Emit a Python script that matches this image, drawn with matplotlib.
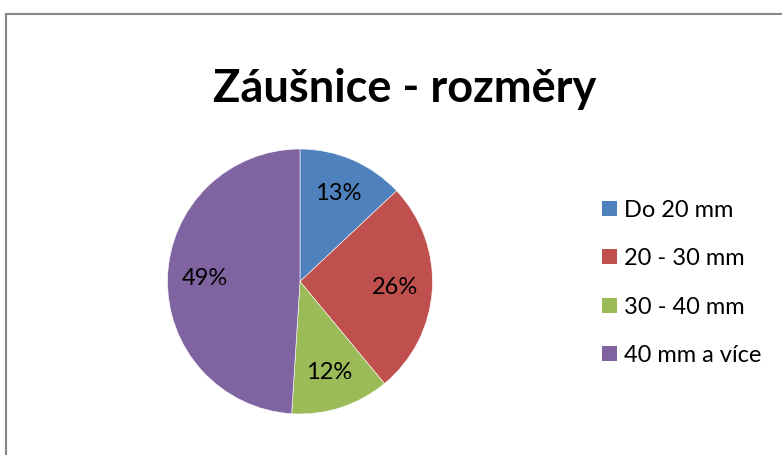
import matplotlib
matplotlib.use("Agg")
from matplotlib import pyplot as plt
from matplotlib.patches import Rectangle
from matplotlib.lines import Line2D

# data
categories = ["Do 20 mm", "20 - 30 mm", "30 - 40 mm", "40 mm a více"]
shares = [13, 26, 12, 49]
colors = ["#4F81BD", "#C0504D", "#9BBB59", "#8064A2"]
title = "Záušnice - rozměry"

plt.rcParams["font.family"] = ["Lato", "DejaVu Sans"]

W, H = 782, 455
fig = plt.figure(figsize=(W / 100, H / 100), dpi=100)

# chart area border (only left and top visible in the crop)
fig.add_artist(Line2D([5.5 / W, 5.5 / W], [0, 1 - 13.5 / H], color="#878787", lw=1.5))
fig.add_artist(Line2D([5.5 / W, 1], [1 - 13.5 / H, 1 - 13.5 / H], color="#878787", lw=1.5))

fig.text(405 / W, 1 - 102 / H, title, ha="center", va="baseline",
         fontsize=32.5, fontweight="bold")

# pie
cx, cy, r = 300, 281.5, 132.5
ax = fig.add_axes([(cx - r) / W, (H - cy - r) / H, 2 * r / W, 2 * r / H])
wedges, texts, autotexts = ax.pie(
    shares, colors=colors, startangle=90, counterclock=False,
    autopct="%d%%", pctdistance=0.72, radius=1,
    wedgeprops=dict(edgecolor="white", linewidth=0.4),
    textprops=dict(fontsize=17, color="black"))
ax.set_xlim(-1, 1)
ax.set_ylim(-1, 1)
ax.set_aspect("auto")

# legend
lx, ly0, dy, sq = 602, 208.5, 48.3, 15
for i, (lab, col) in enumerate(zip(categories, colors)):
    y = ly0 + i * dy
    fig.add_artist(Rectangle((lx / W, 1 - (y + sq / 2) / H), sq / W, sq / H,
                             facecolor=col, edgecolor="none"))
    fig.text((lx + sq + 7) / W, 1 - y / H, lab, ha="left", va="center_baseline",
             fontsize=17)

fig.savefig("out.png", dpi=100)
